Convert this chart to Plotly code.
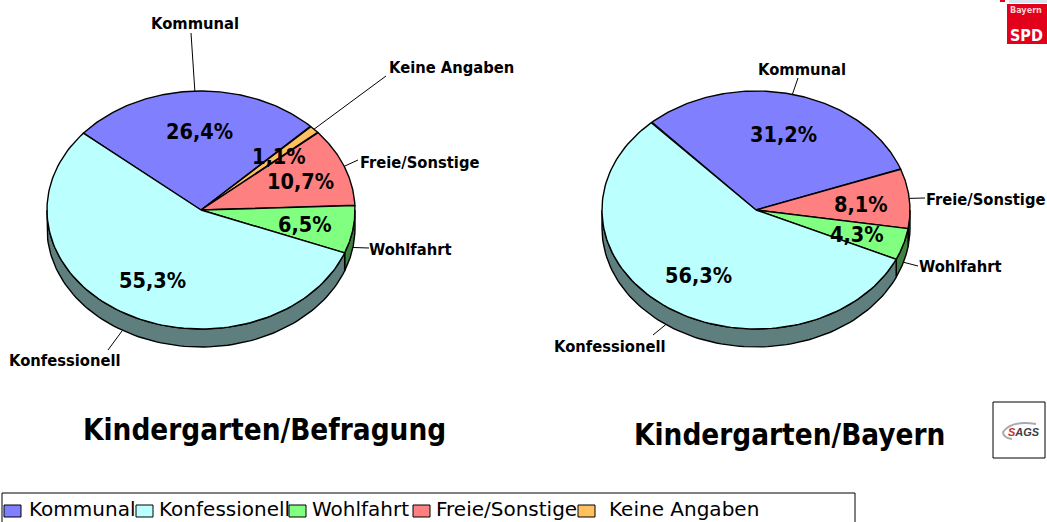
import numpy as np
import plotly.graph_objects as go

# ---------- data ----------
categories = ["Kommunal", "Keine Angaben", "Freie/Sonstige", "Wohlfahrt", "Konfessionell"]
befragung = [26.4, 1.1, 10.7, 6.5, 55.3]
bayern = [31.2, 0.0, 8.1, 4.3, 56.3]
legend_order = ["Kommunal", "Konfessionell", "Wohlfahrt", "Freie/Sonstige", "Keine Angaben"]

# ---------- style and layout ----------
top_colors = {"Kommunal": "#8080ff", "Keine Angaben": "#ffc060", "Freie/Sonstige": "#ff8080",
              "Wohlfahrt": "#80ff80", "Konfessionell": "#bbffff"}
side_colors = {"Kommunal": "#404080", "Keine Angaben": "#806030", "Freie/Sonstige": "#804040",
               "Wohlfahrt": "#408040", "Konfessionell": "#5f7f7f"}
W, H = 1047, 522
RX, RY, DEPTH = 154, 119, 18
BOLD = "DejaVu Sans Condensed, DejaVu Sans, sans-serif"

pies = [
    dict(values=befragung, cx=201, cy=210, start=-49.8,
         label_pos={"Kommunal": (195, 23), "Keine Angaben": (451, 67), "Freie/Sonstige": (419, 162),
                    "Wohlfahrt": (410, 249), "Konfessionell": (65, 360)},
         leader_end={"Kommunal": (191, 33), "Keine Angaben": (386, 76), "Freie/Sonstige": (358, 160),
                     "Wohlfahrt": (369, 248), "Konfessionell": (108, 350)},
         pct_pos={"Kommunal": (199, 131), "Keine Angaben": (279, 156), "Freie/Sonstige": (300, 181),
                  "Wohlfahrt": (305, 224), "Konfessionell": (152, 280)}),
    dict(values=bayern, cx=756, cy=210, start=-42.5,
         label_pos={"Kommunal": (802, 69), "Freie/Sonstige": (985, 199),
                    "Wohlfahrt": (960, 266), "Konfessionell": (610, 346)},
         leader_end={"Kommunal": (798, 78), "Freie/Sonstige": (925, 198),
                     "Wohlfahrt": (918, 266), "Konfessionell": (653, 335)},
         pct_pos={"Kommunal": (783, 134), "Freie/Sonstige": (861, 204),
                  "Wohlfahrt": (857, 234), "Konfessionell": (698, 275)}),
]
titles = [("Kindergarten/Befragung", 264, 430), ("Kindergarten/Bayern", 789, 435)]
legend_swatch_x = [4, 136, 289, 413, 578]
legend_text_x = [27, 157, 310, 434, 607]


def pct(v):
    return f"{v:.1f}".replace(".", ",") + "%"


def ell(cx, cy, deg, drop=0.0):
    t = np.radians(deg)
    return cx + RX * np.sin(t), cy - RY * np.cos(t) + drop


fig = go.Figure()
annotations, shapes = [], []


def poly(xs, ys, fill, width=1.4):
    fig.add_trace(go.Scatter(x=list(xs), y=list(ys), mode="lines", fill="toself", fillcolor=fill,
                             line=dict(color="black", width=width), hoverinfo="skip", showlegend=False))


def text(x, y, s, size, family=BOLD, bold=True, anchor="center", color="black"):
    annotations.append(dict(x=x, y=y, text=f"<b>{s}</b>" if bold else s, showarrow=False,
                            xref="x", yref="y", xanchor=anchor, yanchor="middle",
                            font=dict(family=family, size=size, color=color)))


for pie in pies:
    cx, cy = pie["cx"], pie["cy"]
    spans, a = {}, pie["start"]
    for cat, v in zip(categories, pie["values"]):
        spans[cat] = (a, a + v * 3.6)
        a += v * 3.6
    # side walls (front half of the disc only)
    for cat, (a0, a1) in spans.items():
        for k in (0, 360):
            lo, hi = max(a0, 90 + k), min(a1, 270 + k)
            if hi > lo:
                ts = np.linspace(lo, hi, 90)
                x1, y1 = ell(cx, cy, ts)
                x2, y2 = ell(cx, cy, ts[::-1], DEPTH)
                poly(np.r_[x1, x2, x1[0]], np.r_[y1, y2, y1[0]], side_colors[cat])
    # top faces
    for cat, (a0, a1) in spans.items():
        if a1 <= a0:
            continue
        ts = np.linspace(a0, a1, 120)
        x1, y1 = ell(cx, cy, ts)
        poly(np.r_[cx, x1, cx], np.r_[cy, y1, cy], top_colors[cat])
    # leader lines and labels
    for cat, (a0, a1) in spans.items():
        if cat not in pie["label_pos"]:
            continue
        mid = (a0 + a1) / 2
        front = 90 < (mid % 360) < 270
        sx, sy = ell(cx, cy, mid, DEPTH if front else 0)
        ex, ey = pie["leader_end"][cat]
        fig.add_trace(go.Scatter(x=[sx, ex], y=[sy, ey], mode="lines", line=dict(color="black", width=1),
                                 hoverinfo="skip", showlegend=False))
        text(*pie["label_pos"][cat], cat, 16.4)
        text(*pie["pct_pos"][cat], pct(pie["values"][categories.index(cat)]), 21.5)

for s, x, y in titles:
    text(x, y, s, 29.4)

# legend box, running off the bottom of the page as in the source
shapes.append(dict(type="rect", x0=2, x1=855, y0=493, y1=540, line=dict(color="black", width=1), fillcolor="white"))
for cat, sx, tx in zip(legend_order, legend_swatch_x, legend_text_x):
    shapes.append(dict(type="rect", x0=sx, x1=sx + 17, y0=505, y1=517,
                       line=dict(color="black", width=1), fillcolor=top_colors[cat]))
    text(tx, 509, cat, 20, family="DejaVu Sans, sans-serif", bold=False, anchor="left")

# SPD logo
shapes.append(dict(type="rect", x0=1007, x1=1047, y0=4, y1=44, line=dict(width=0), fillcolor="#e2001a"))
shapes.append(dict(type="rect", x0=1009, x1=1047, y0=0, y1=3, line=dict(width=0), fillcolor="#d8e4ee"))
shapes.append(dict(type="rect", x0=1000, x1=1005, y0=0, y1=2, line=dict(width=0), fillcolor="#e2001a"))
text(1026, 10, "Bayern", 9, color="#ffd0d0", anchor="center")
text(1026, 35, "SPD", 16, color="white", anchor="center")

# SAGS logo
shapes.append(dict(type="rect", x0=993, x1=1045, y0=402, y1=458, line=dict(color="black", width=1), fillcolor="white"))
shapes.append(dict(type="path", path="M 1036 424 Q 1012 420 1003 432 Q 1003 438 1012 439",
                   line=dict(color="#aaaaaa", width=2)))
annotations.append(dict(x=1024, y=432, xref="x", yref="y", showarrow=False, xanchor="center", yanchor="middle",
                        text='<b><i><span style="color:#c83030">S</span>AGS</i></b>',
                        font=dict(family="Liberation Sans, sans-serif", size=11, color="#404040")))

fig.update_layout(
    width=W, height=H, margin=dict(l=0, r=0, t=0, b=0), paper_bgcolor="white", plot_bgcolor="white",
    showlegend=False, annotations=annotations, shapes=shapes,
    xaxis=dict(range=[0, W], visible=False, fixedrange=True),
    yaxis=dict(range=[H, 0], visible=False, fixedrange=True),
)
fig.write_html("out.html", config=dict(displayModeBar=False),
               post_script="document.body.style.margin='0';document.body.style.overflow='hidden';")
